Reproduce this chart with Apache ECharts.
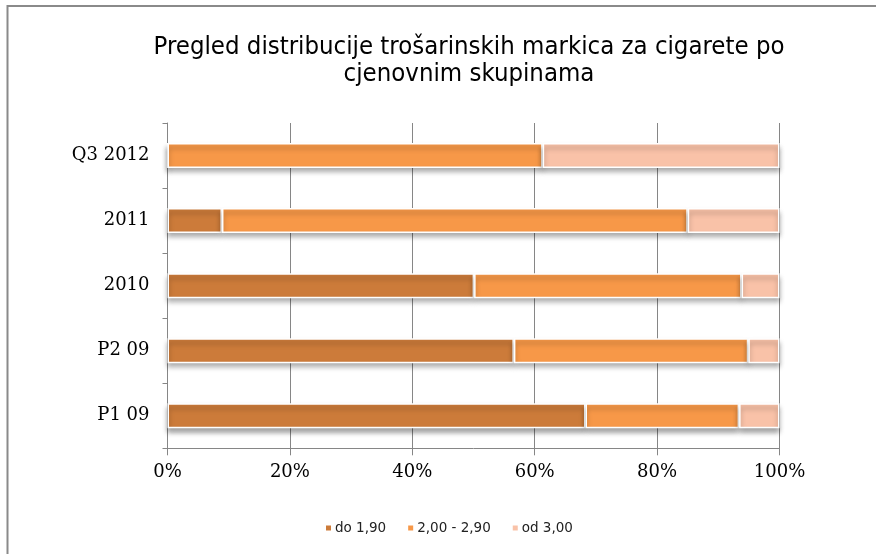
<!DOCTYPE html>
<html>
<head>
<meta charset="utf-8">
<script src="https://cdn.jsdelivr.net/npm/echarts@6/dist/echarts.min.js"></script>
<style>
  html, body { margin: 0; padding: 0; background: #fff; }
  #chart { width: 876px; height: 554px; }
</style>
</head>
<body>
<div id="chart"></div>
<script>
// categories, top to bottom
var categories = ['Q3 2012', '2011', '2010', 'P2 09', 'P1 09'];
var seriesNames = ['do 1,90', '2,00 - 2,90', 'od 3,00'];

// shares in percent
var lowPrice = [0, 8.9, 50.1, 56.6, 68.3];
var midPrice = [61.3, 76.1, 43.7, 38.3, 25.1];
var highPrice = [38.7, 15.0, 6.2, 5.1, 6.6];

var xTicks = [0, 20, 40, 60, 80, 100];
var colors = ['#cc7b3a', '#f79848', '#f9c2a8'];

var chart = echarts.init(document.getElementById('chart'));

function barSeries(name, data, color) {
  return {
    name: name,
    type: 'bar',
    stack: 'total',
    barWidth: 25,
    data: data,
    itemStyle: {
      color: color,
      borderColor: '#ffffff',
      borderWidth: 1.5,
      shadowColor: 'rgba(0,0,0,0.35)',
      shadowBlur: 5,
      shadowOffsetY: 4
    }
  };
}

var option = {
  animation: false,
  backgroundColor: '#ffffff',
  graphic: [
    {
      type: 'rect',
      shape: { x: 7.5, y: 6, width: 900, height: 600 },
      style: { fill: 'none', stroke: '#8a8a8a', lineWidth: 2 },
      silent: true
    },
    {
      type: 'text',
      x: 469,
      y: 34,
      style: {
        text: 'Pregled distribucije trošarinskih markica za cigarete po\ncjenovnim skupinama',
        align: 'center',
        verticalAlign: 'top',
        fontFamily: '"DejaVu Sans Condensed", "DejaVu Sans"',
        fontSize: 25.5,
        lineHeight: 27,
        fill: '#000000'
      }
    }
  ],
  legend: {
    left: 319,
    top: 516,
    itemWidth: 7,
    itemHeight: 7,
    itemGap: 20,
    icon: 'rect',
    textStyle: {
      fontFamily: 'DejaVu Sans',
      fontSize: 13.5,
      color: '#222',
      padding: [0, 0, 0, -2]
    },
    data: seriesNames
  },
  grid: {
    left: 167.5,
    right: 96.5,
    top: 123,
    bottom: 105.7,
    containLabel: false
  },
  xAxis: {
    type: 'value',
    min: 0,
    max: 100,
    interval: 20,
    axisLine: { show: true, lineStyle: { color: '#868686', width: 1 } },
    axisTick: { show: true, length: 7, lineStyle: { color: '#868686' } },
    splitLine: { show: true, lineStyle: { color: '#868686', width: 1 } },
    axisLabel: {
      margin: 15,
      fontFamily: 'DejaVu Serif',
      fontSize: 18,
      color: '#000',
      formatter: function (v) { return xTicks.indexOf(v) >= 0 ? v + '%' : ''; }
    }
  },
  yAxis: {
    type: 'category',
    inverse: true,
    data: categories,
    axisLine: { show: true, lineStyle: { color: '#868686', width: 1 } },
    axisTick: { show: true, length: 5, lineStyle: { color: '#868686' } },
    axisLabel: {
      margin: 18,
      fontFamily: 'DejaVu Serif',
      fontSize: 18,
      color: '#000'
    }
  },
  series: [
    barSeries(seriesNames[0], lowPrice, colors[0]),
    barSeries(seriesNames[1], midPrice, colors[1]),
    barSeries(seriesNames[2], highPrice, colors[2])
  ]
};

chart.setOption(option);
</script>
</body>
</html>
